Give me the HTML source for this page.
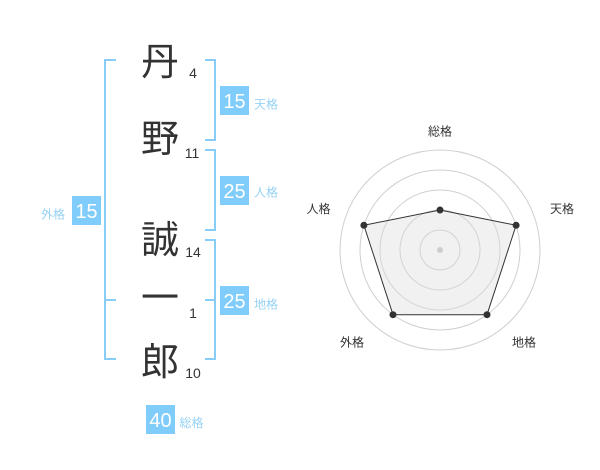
<!DOCTYPE html>
<html>
<head>
<meta charset="utf-8">
<style>
html,body{margin:0;padding:0;background:#fff;}
body{width:600px;height:470px;overflow:hidden;}
svg{display:block;}
.k{font-family:"Liberation Sans","Noto Sans CJK JP",sans-serif;font-size:38px;fill:#333;text-anchor:middle;}
.n{font-family:"Liberation Sans",sans-serif;font-size:14px;fill:#333;text-anchor:middle;}
.bt{font-family:"Liberation Sans",sans-serif;font-size:20px;fill:#fff;text-anchor:middle;}
.bl{font-family:"Liberation Sans","Noto Sans CJK JP",sans-serif;font-size:12px;fill:#96d2f5;text-anchor:middle;}
.rl{font-family:"Liberation Sans","Noto Sans CJK JP",sans-serif;font-size:12px;fill:#333;text-anchor:middle;}
</style>
</head>
<body>
<svg width="600" height="470" viewBox="0 0 600 470" xmlns="http://www.w3.org/2000/svg">
  <!-- brackets -->
  <g stroke="#86cdf8" stroke-width="2" fill="none">
    <polyline points="116,60 105,60 105,359 116,359"/>
    <line x1="105" y1="300" x2="116" y2="300"/>
    <polyline points="205,60 215,60 215,140 205,140"/>
    <polyline points="205,150 215,150 215,230 205,230"/>
    <polyline points="205,240 215,240 215,359 205,359"/>
    <line x1="205" y1="300" x2="215" y2="300"/>
  </g>

  <!-- kanji -->
  <text class="k" x="160" y="75">丹</text>
  <text class="k" x="160" y="152">野</text>
  <text class="k" x="160" y="253">誠</text>
  <text class="k" x="160" y="311">一</text>
  <text class="k" x="160" y="375">郎</text>

  <!-- stroke counts -->
  <text class="n" x="193" y="78">4</text>
  <text class="n" x="192" y="158">11</text>
  <text class="n" x="193" y="257">14</text>
  <text class="n" x="193" y="318">1</text>
  <text class="n" x="193" y="378">10</text>

  <!-- boxes -->
  <g fill="#80ccfa">
    <rect x="220" y="86" width="29" height="29"/>
    <rect x="220" y="176" width="29" height="29"/>
    <rect x="220" y="286" width="29" height="29"/>
    <rect x="72" y="196" width="29" height="29"/>
    <rect x="146" y="405" width="29" height="29"/>
  </g>
  <text class="bt" x="234.5" y="108">15</text>
  <text class="bt" x="234.5" y="198">25</text>
  <text class="bt" x="234.5" y="308">25</text>
  <text class="bt" x="86.5" y="218">15</text>
  <text class="bt" x="160.5" y="427">40</text>

  <text class="bl" x="266" y="108.5">天格</text>
  <text class="bl" x="266" y="196.5">人格</text>
  <text class="bl" x="266" y="308.5">地格</text>
  <text class="bl" x="53" y="218.5">外格</text>
  <text class="bl" x="191.5" y="427">総格</text>

  <!-- radar -->
  <g fill="none" stroke="#cfcfcf" stroke-width="1">
    <circle cx="440" cy="250" r="20"/>
    <circle cx="440" cy="250" r="40"/>
    <circle cx="440" cy="250" r="60"/>
    <circle cx="440" cy="250" r="80"/>
    <circle cx="440" cy="250" r="100"/>
  </g>
  <polygon points="440,210 516.1,225.3 487,314.7 393,314.7 363.9,225.3" fill="rgba(220,220,220,0.4)" stroke="#333" stroke-width="1"/>
  <circle cx="440" cy="250" r="3" fill="#cccccc"/>
  <g fill="#333">
    <circle cx="440" cy="210" r="3.5"/>
    <circle cx="516.1" cy="225.3" r="3.5"/>
    <circle cx="487" cy="314.7" r="3.5"/>
    <circle cx="393" cy="314.7" r="3.5"/>
    <circle cx="363.9" cy="225.3" r="3.5"/>
  </g>
  <text class="rl" x="440" y="135.5">総格</text>
  <text class="rl" x="562" y="213">天格</text>
  <text class="rl" x="318.5" y="213">人格</text>
  <text class="rl" x="352" y="346.5">外格</text>
  <text class="rl" x="524" y="346.5">地格</text>
</svg>
</body>
</html>
